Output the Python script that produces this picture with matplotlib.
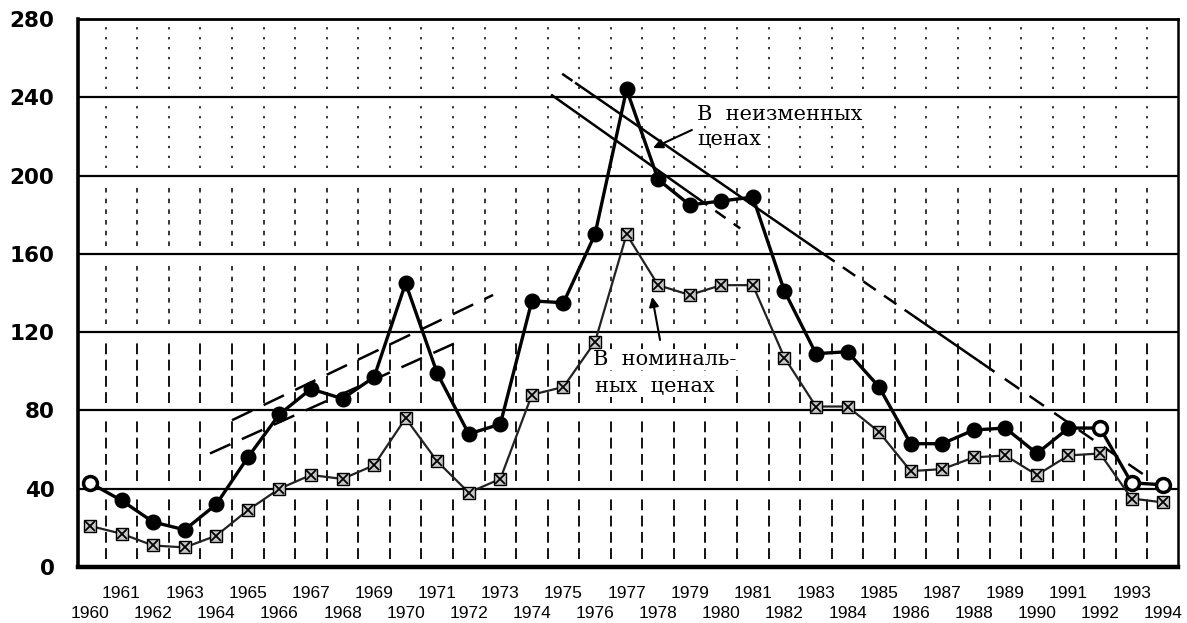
import matplotlib
matplotlib.use('Agg')
import matplotlib.pyplot as plt
import numpy as np

# ---------------- data ----------------
years = list(range(1960, 1995))
real_prices = [43, 34, 23, 19, 32, 56, 78, 91, 86, 97,
               145, 99, 68, 73, 136, 135, 170, 244, 198, 185,
               187, 189, 141, 109, 110, 92, 63, 63, 70, 71,
               58, 71, 71, 43, 42]
nominal_prices = [21, 17, 11, 10, 16, 29, 40, 47, 45, 52,
                  76, 54, 38, 45, 88, 92, 115, 170, 144, 139,
                  144, 144, 107, 82, 82, 69, 49, 50, 56, 57,
                  47, 57, 58, 35, 33]
open_real_years = [1960, 1992, 1993, 1994]

y_ticks = [0, 40, 80, 120, 160, 200, 240, 280]
x_tick_labels = [str(y) for y in years]

# trend lines (endpoints: years, values)
trend_up_upper_x, trend_up_upper_y = [1964.5, 1972.77], [75, 139]
trend_up_lower_x, trend_up_lower_y = [1963.8, 1971.79], [58, 116]
trend_down_long_x, trend_down_long_y = [1974.96, 1993.49], [252, 46]
trend_down_short_x, trend_down_short_y = [1974.64, 1980.6], [241, 173]

label_real = ['В  неизменных', 'ценах']
label_nominal = ['В  номиналь-', 'ных  ценах']

# ---------------- figure ----------------
fig = plt.figure(figsize=(11.87, 6.23), dpi=100)
ax = fig.add_axes([78 / 1187, 56 / 623, 1100 / 1187, 548 / 623])
ax.set_xlim(1959.62, 1994.47)
ax.set_ylim(0, 280)

# horizontal grid
for v in y_ticks[1:-1]:
    ax.axhline(v, color='black', lw=1.6, zorder=1)

# vertical broken grid at half years
gap = 4
for xv in np.arange(years[0] + 0.5, years[-1], 1.0):
    for lo in y_ticks[:-1]:
        hi = lo + 40
        if lo < 120:
            ls = (0, (6, 3))
            lw = 1.3
        elif lo < 200:
            ls = (0, (3, 4))
            lw = 1.1
        else:
            ls = (0, (1.5, 5))
            lw = 1.1
        ax.plot([xv, xv], [lo + gap, hi - gap], color='black', lw=lw,
                ls=ls, zorder=1)

# trend lines
ax.plot(trend_up_upper_x, trend_up_upper_y, color='black', lw=1.8,
        ls=(0, (9, 5)), zorder=3)
ax.plot(trend_up_lower_x, trend_up_lower_y, color='black', lw=1.8,
        ls=(0, (9, 5)), zorder=3)


def seg(xs, ys, x0, x1, **kw):
    y0 = np.interp(x0, xs, ys)
    y1 = np.interp(x1, xs, ys)
    ax.plot([x0, x1], [y0, y1], color='black', zorder=3, **kw)


seg(trend_down_long_x, trend_down_long_y, 1974.96, 1975.4, lw=1.8, ls=(0, (5, 3)))
seg(trend_down_long_x, trend_down_long_y, 1975.4, 1983.2, lw=1.8, ls='-')
seg(trend_down_long_x, trend_down_long_y, 1983.2, 1986.2, lw=1.8, ls=(0, (6, 4)))
seg(trend_down_long_x, trend_down_long_y, 1986.2, 1988.2, lw=1.8, ls='-')
seg(trend_down_long_x, trend_down_long_y, 1988.2, 1993.49, lw=1.8, ls=(0, (7, 5)))
seg(trend_down_short_x, trend_down_short_y, 1974.64, 1979.23, lw=1.8, ls='-')
seg(trend_down_short_x, trend_down_short_y, 1979.23, 1980.6, lw=1.8, ls=(0, (5, 4)))

# series
ax.plot(years, nominal_prices, color='#222222', lw=1.6, marker='s', ms=8,
        mfc='#c8c8c8', mec='black', mew=1.0, zorder=4)
ax.plot(years, nominal_prices, ls='none', marker='x', ms=7, mec='black',
        mew=1.3, zorder=5)
ax.plot(years, real_prices, color='black', lw=2.4, marker='o', ms=10.5,
        mfc='black', mec='black', zorder=6)
ax.plot(open_real_years, [real_prices[years.index(y)] for y in open_real_years],
        ls='none', marker='o', ms=10, mfc='white', mec='black', mew=2.5, zorder=7)

# annotations
serif = 'DejaVu Serif'
fs_ann = 15
box = dict(facecolor='white', edgecolor='none', pad=1)
ax.text(1979.23, 228.4, label_real[0], family=serif, fontsize=fs_ann,
        va='baseline', ha='left', zorder=3.5, bbox=box)
ax.text(1979.23, 215.6, label_real[1], family=serif, fontsize=fs_ann,
        va='baseline', ha='left', zorder=3.5, bbox=box)
ax.text(1975.94, 103.2, label_nominal[0], family=serif, fontsize=fs_ann,
        va='baseline', ha='left', zorder=3.5, bbox=box)
ax.text(1976.0, 89.4, label_nominal[1], family=serif, fontsize=fs_ann,
        va='baseline', ha='left', zorder=3.5, bbox=box)
ax.annotate('', xy=(1977.84, 214.1), xytext=(1979.07, 223.3),
            arrowprops=dict(arrowstyle='-|>', lw=1.5, color='black',
                            mutation_scale=14, shrinkA=0, shrinkB=0), zorder=8)
ax.annotate('', xy=(1977.81, 138.0), xytext=(1978.06, 116.0),
            arrowprops=dict(arrowstyle='-|>', lw=1.5, color='black',
                            mutation_scale=14, shrinkA=0, shrinkB=0), zorder=8)

# axes styling
for side, lw in [('left', 2.6), ('bottom', 3.2), ('top', 2.0), ('right', 1.8)]:
    ax.spines[side].set_linewidth(lw)
    ax.spines[side].set_color('black')

ax.set_yticks(y_ticks)
ax.set_yticklabels([str(v) for v in y_ticks], family='DejaVu Sans',
                   fontweight='bold', fontsize=15.5)
ax.tick_params(axis='y', length=0, pad=17)

# x labels in two staggered rows (odd years on top, even years below)
ax.set_xticks(years)
ax.set_xticklabels([])
ax.tick_params(axis='x', length=0)
xform = ax.get_xaxis_transform()
row_top = -26 / 548
row_bottom = -46 / 548
for y, lab in zip(years, x_tick_labels):
    ax.text(y, row_top if y % 2 else row_bottom, lab, transform=xform,
            family='Liberation Sans', fontsize=12.5, ha='center', va='center',
            clip_on=False)

fig.savefig('out.png', dpi=100)
